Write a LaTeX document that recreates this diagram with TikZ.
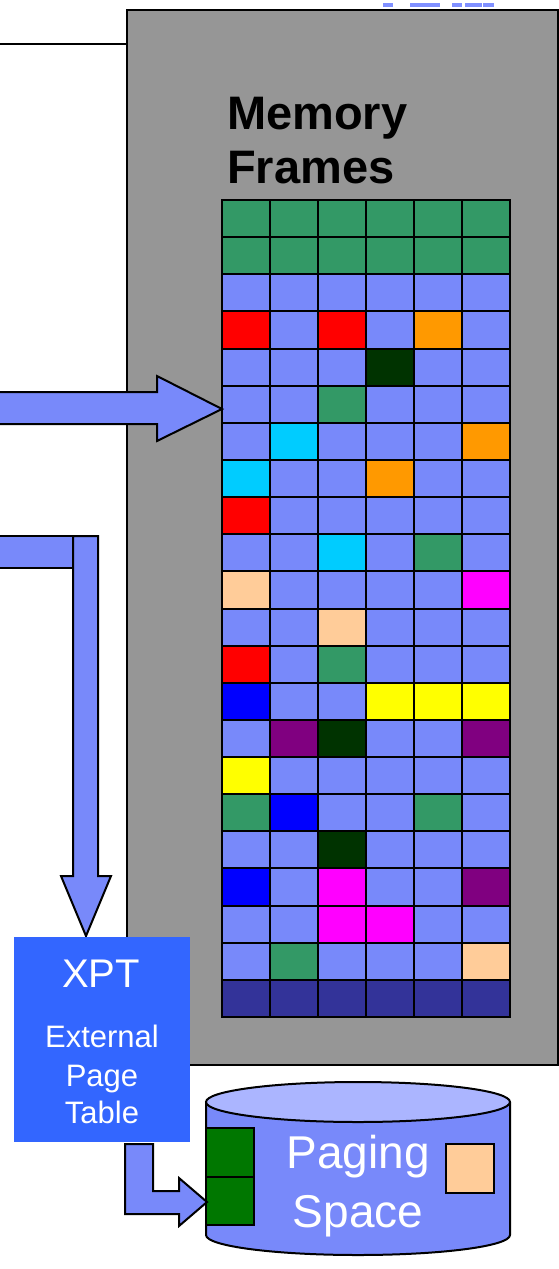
\documentclass[tikz,border=0pt]{standalone}
\usepackage{fontspec}
\setmainfont{Liberation Sans}
\definecolor{colL}{RGB}{120,137,250}
\definecolor{colG}{RGB}{51,153,102}
\definecolor{colR}{RGB}{255,0,0}
\definecolor{colO}{RGB}{255,153,0}
\definecolor{colD}{RGB}{0,51,0}
\definecolor{colC}{RGB}{0,204,255}
\definecolor{colP}{RGB}{255,204,153}
\definecolor{colM}{RGB}{255,0,255}
\definecolor{colB}{RGB}{0,0,255}
\definecolor{colY}{RGB}{255,255,0}
\definecolor{colU}{RGB}{128,0,128}
\definecolor{colN}{RGB}{51,51,153}
\definecolor{framegray}{RGB}{150,150,150}
\definecolor{xptblue}{RGB}{51,102,255}
\definecolor{cyltop}{RGB}{171,181,255}
\definecolor{diskgreen}{RGB}{0,119,0}
\definecolor{logoblue}{RGB}{128,144,255}
\begin{document}
\begin{tikzpicture}[x=1pt,y=-1pt,
  outl/.style={draw=black,line width=2pt,line join=miter},
  blockarrow/.style={outl,fill=colL},
  cellbox/.style={draw=black,line width=2pt},
  whitetxt/.style={text=white,inner sep=0pt,anchor=base},
]
\useasboundingbox (0,0) rectangle (558,1269);
% partial logo
\foreach \a/\b in {383/393,410/440,452/462,465/482,483/494}
  \fill[logoblue] (\a,3) rectangle (\b,7);
% top rule
\draw[line width=1.5pt] (0,44) -- (126,44);
% memory frame panel
\node[outl,fill=framegray,minimum width=431pt,minimum height=1055pt,inner sep=0pt,anchor=north west] (panel) at (126,9) {};
\node[anchor=base west,inner sep=0pt,font=\fontsize{47}{56}\selectfont\bfseries] (t1) at (227,129) {Memory};
\node[anchor=base west,inner sep=0pt,font=\fontsize{47}{56}\selectfont\bfseries] (t2) at (227,183) {Frames};
% grid
\foreach \row [count=\r from 0] in {
 {G,G,G,G,G,G},{G,G,G,G,G,G},{L,L,L,L,L,L},{R,L,R,L,O,L},
 {L,L,L,D,L,L},{L,L,G,L,L,L},{L,C,L,L,L,O},{C,L,L,O,L,L},
 {R,L,L,L,L,L},{L,L,C,L,G,L},{P,L,L,L,L,M},{L,L,P,L,L,L},
 {R,L,G,L,L,L},{B,L,L,Y,Y,Y},{L,U,D,L,L,U},{Y,L,L,L,L,L},
 {G,B,L,L,G,L},{L,L,D,L,L,L},{B,L,M,L,L,U},{L,L,M,M,L,L},
 {L,G,L,L,L,P},{N,N,N,N,N,N}}{
  \foreach \c [count=\k from 0] in \row {
    \draw[cellbox,fill=col\c] ({222+48*\k},{200+37.136*\r}) rectangle ({270+48*\k},{237.136+37.136*\r});
  }
}
\coordinate (gridin) at (222,409);
% arrow into frames
\draw[blockarrow] (-3,392) -- (157,392) -- (157,376) -- (gridin) -- (157,441) -- (157,424) -- (-3,424) -- cycle;
% elbow arrow down to XPT
\draw[blockarrow] (-3,536) -- (73,536) -- (73,568) -- (-3,568) -- cycle;
\coordinate (xtip) at (86,936);
\draw[blockarrow] (73,536) -- (98,536) -- (98,876) -- (111,876) -- (xtip) -- (61,876) -- (73,876) -- cycle;
% XPT box
\node[fill=xptblue,minimum width=176pt,minimum height=205pt,inner sep=0pt,anchor=north west] (xpt) at (14,937) {};
\node[whitetxt,font=\fontsize{40}{48}\selectfont] (x1) at (101,987) {XPT};
\node[whitetxt,font=\fontsize{31}{37}\selectfont] (x2) at (102,1047) {External};
\node[whitetxt,font=\fontsize{31}{37}\selectfont] (x3) at (102,1086) {Page};
\node[whitetxt,font=\fontsize{31}{37}\selectfont] (x4) at (102,1123) {Table};
% cylinder
\fill[colL] (206,1102) rectangle (510,1235);
\fill[colL] (358,1235) ellipse[x radius=152pt,y radius=20pt];
\draw[line width=2pt] (206,1102) -- (206,1235) arc[start angle=180,end angle=360,x radius=152pt,y radius=20pt] -- (510,1102);
\draw[line width=2pt,fill=cyltop] (358,1102) ellipse[x radius=152pt,y radius=20pt];
\node[inner sep=0pt] (ps) at (358,1170) {};
\node[whitetxt,font=\fontsize{46}{56}\selectfont] (p1) at (358,1168) {Paging};
\node[whitetxt,font=\fontsize{46}{56}\selectfont] (p2) at (358,1227) {Space};
\draw[cellbox,fill=diskgreen] (206,1128) rectangle (254,1177);
\draw[cellbox,fill=diskgreen] (206,1177) rectangle (254,1225);
\draw[cellbox,fill=colP] (446,1144) rectangle (494,1193);
% bent arrow to paging space
\coordinate (ptip) at (207,1202);
\draw[blockarrow] (125,1144) -- (153,1144) -- (153,1191) -- (179,1191) -- (179,1178) -- (ptip) -- (179,1226) -- (179,1214) -- (125,1214) -- cycle;
\end{tikzpicture}
\end{document}
